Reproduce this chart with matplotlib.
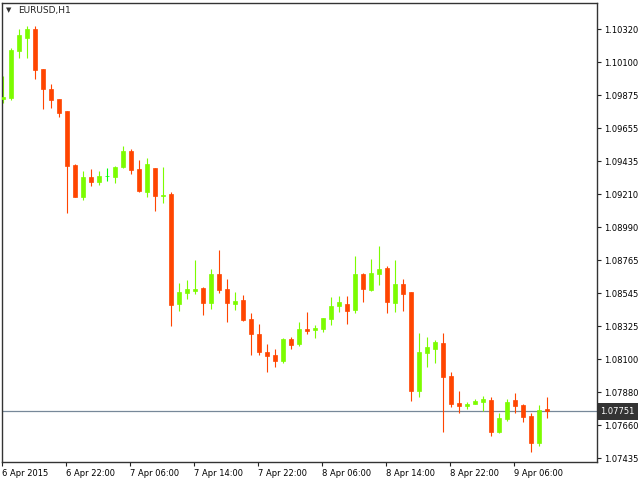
import numpy as np
import matplotlib
matplotlib.use("Agg")
import matplotlib.pyplot as plt

# EURUSD H1 candles
opens = [1.09853, 1.09860, 1.10176, 1.10264, 1.10322, 1.10053, 1.09919, 1.09851, 1.09771, 1.09409,
         1.09194, 1.09327, 1.09295, 1.09335, 1.09329, 1.09396, 1.09502, 1.09381, 1.09228, 1.09389,
         1.09199, 1.09214, 1.08475, 1.08549, 1.08562, 1.08582, 1.08481, 1.08674, 1.08574, 1.08475,
         1.08500, 1.08372, 1.08271, 1.08150, 1.08130, 1.08089, 1.08237, 1.08206, 1.08307, 1.08300,
         1.08307, 1.08374, 1.08461, 1.08473, 1.08434, 1.08676, 1.08569, 1.08676, 1.08715, 1.08481,
         1.08609, 1.08553, 1.07890, 1.08145, 1.08172, 1.08210, 1.07988, 1.07809, 1.07789, 1.07802,
         1.07816, 1.07829, 1.07614, 1.07701, 1.07829, 1.07795, 1.07721, 1.07540, 1.07765]
highs = [1.10006, 1.10192, 1.10322, 1.10342, 1.10342, 1.10053, 1.09952, 1.09851, 1.09771, 1.09416,
         1.09369, 1.09381, 1.09367, 1.09389, 1.09403, 1.09537, 1.09515, 1.09443, 1.09457, 1.09389,
         1.09394, 1.09228, 1.08614, 1.08634, 1.08771, 1.08589, 1.08710, 1.08838, 1.08643, 1.08555,
         1.08535, 1.08412, 1.08338, 1.08204, 1.08170, 1.08246, 1.08251, 1.08352, 1.08419, 1.08331,
         1.08379, 1.08520, 1.08529, 1.08529, 1.08795, 1.08683, 1.08775, 1.08865, 1.08728, 1.08769,
         1.08643, 1.08553, 1.08280, 1.08253, 1.08233, 1.08280, 1.08017, 1.07890, 1.07816, 1.07836,
         1.07856, 1.07849, 1.07742, 1.07836, 1.07874, 1.07802, 1.07742, 1.07795, 1.07849]
lows = [1.09822, 1.09847, 1.10129, 1.10129, 1.09988, 1.09786, 1.09793, 1.09732, 1.09087, 1.09194,
        1.09174, 1.09268, 1.09275, 1.09302, 1.09288, 1.09389, 1.09349, 1.09228, 1.09194, 1.09100,
        1.09154, 1.08327, 1.08428, 1.08508, 1.08542, 1.08401, 1.08441, 1.08549, 1.08354, 1.08434,
        1.08360, 1.08132, 1.08130, 1.08017, 1.08051, 1.08078, 1.08172, 1.08192, 1.08273, 1.08246,
        1.08286, 1.08333, 1.08421, 1.08340, 1.08414, 1.08488, 1.08562, 1.08602, 1.08414, 1.08421,
        1.08428, 1.07822, 1.07849, 1.08051, 1.08078, 1.07614, 1.07782, 1.07742, 1.07769, 1.07798,
        1.07755, 1.07587, 1.07607, 1.07688, 1.07742, 1.07681, 1.07479, 1.07520, 1.07708]
closes = [1.09865, 1.10181, 1.10284, 1.10322, 1.10048, 1.09921, 1.09847, 1.09759, 1.09403, 1.09194,
          1.09327, 1.09295, 1.09333, 1.09335, 1.09396, 1.09502, 1.09376, 1.09235, 1.09416, 1.09201,
          1.09204, 1.08468, 1.08553, 1.08574, 1.08576, 1.08481, 1.08674, 1.08569, 1.08481, 1.08493,
          1.08367, 1.08273, 1.08152, 1.08125, 1.08091, 1.08237, 1.08199, 1.08305, 1.08293, 1.08311,
          1.08379, 1.08459, 1.08488, 1.08428, 1.08674, 1.08576, 1.08681, 1.08708, 1.08488, 1.08609,
          1.08542, 1.07890, 1.08150, 1.08185, 1.08217, 1.07984, 1.07802, 1.07789, 1.07802, 1.07820,
          1.07836, 1.07614, 1.07708, 1.07814, 1.07789, 1.07715, 1.07540, 1.07762, 1.07751]

bid = 1.07751
time_labels = ["6 Apr 2015", "6 Apr 22:00", "7 Apr 06:00", "7 Apr 14:00", "7 Apr 22:00",
               "8 Apr 06:00", "8 Apr 14:00", "8 Apr 22:00", "9 Apr 06:00"]
price_labels = ["1.10320", "1.10100", "1.09875", "1.09655", "1.09435", "1.09210", "1.08990",
                "1.08765", "1.08545", "1.08325", "1.08100", "1.07880", "1.07660", "1.07435"]

plt.rcParams['font.family'] = ['DejaVu Sans']

o = np.array(opens)
h = np.array(highs)
l = np.array(lows)
c = np.array(closes)
x = np.arange(len(o))

up_col = '#7CFC00'
dn_col = '#FF4500'
doji_col = '#00FF00'
cols = np.where(c > o, up_col, np.where(c < o, dn_col, doji_col))

fig = plt.figure(figsize=(6.4, 4.8), dpi=100)
ax = fig.add_axes([2/640, 17.7/480, 595/640, 459.6/480])

ax.axhline(bid, color='#778899', lw=0.9, zorder=1)
ax.vlines(x, l, h, colors=cols, lw=0.8, zorder=2)
ax.bar(x, np.abs(c - o), bottom=np.minimum(o, c), width=0.58,
       color=cols, edgecolor=cols, linewidth=0.5, zorder=3)

ax.set_xlim(-0.125, 74.25)
ax.set_ylim(1.07408, 1.10499)

ax.yaxis.tick_right()
ax.set_yticks(np.linspace(1.10320, 1.07435, len(price_labels)))
ax.set_yticklabels(price_labels)
ax.set_xticks(np.arange(len(time_labels)) * 8 - 0.125)
ax.set_xticklabels(time_labels)
for lab in ax.get_xticklabels():
    lab.set_horizontalalignment('left')
ax.tick_params(axis='both', length=3, width=0.8, color='#222222', labelsize=6, pad=2)

for s in ax.spines.values():
    s.set_color('#333333')
    s.set_linewidth(1.0)

ax.text(1.0055, bid, "1.07751", transform=ax.get_yaxis_transform(), color='white',
        fontsize=6, va='center', ha='left', clip_on=False, zorder=5,
        bbox=dict(boxstyle='square,pad=0.45', fc='#333333', ec='none'))

# chart title with the little menu triangle
fig.text(6/640, 1 - 10.5/480, "\u25BC", fontsize=5, color='#333333', va='center', ha='left')
fig.text(18/640, 1 - 11/480, "EURUSD,H1", fontsize=6.5, color='#222222', va='center', ha='left')

fig.savefig("out.png", dpi=100)
